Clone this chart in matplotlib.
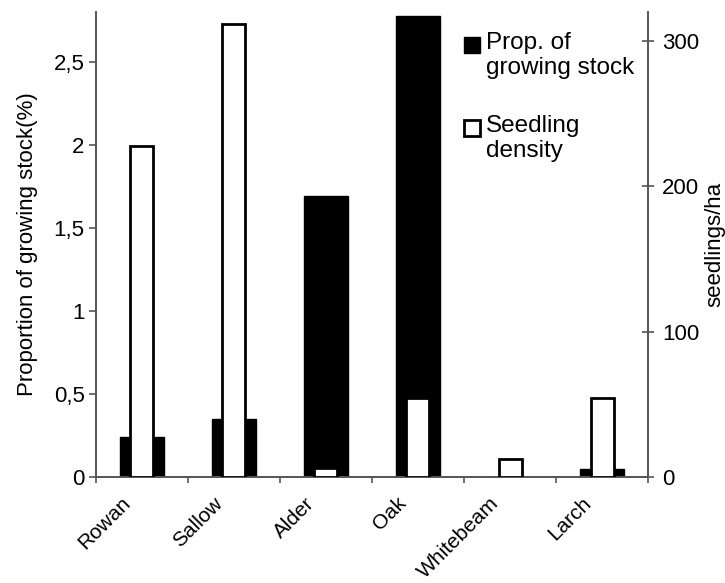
import matplotlib.pyplot as plt
import numpy as np
from matplotlib.patches import Rectangle
from matplotlib.transforms import ScaledTranslation

plt.rcParams['font.family'] = ['Liberation Sans', 'DejaVu Sans']

species = ['Rowan', 'Sallow', 'Alder', 'Oak', 'Whitebeam', 'Larch']
prop_stock = [0.24, 0.35, 1.69, 2.78, 0.0, 0.05]      # %
seedling_density = [228, 312, 6, 54, 12, 54]         # seedlings/ha
legend_labels = ['Prop. of\ngrowing stock', 'Seedling\ndensity']

fs = 16
W, H = 725, 583

fig = plt.figure(figsize=(W / 100, H / 100), dpi=100)
ax = fig.add_axes([0.132, 0.182, 0.762, 0.797])
ax2 = ax.twinx()

x = np.arange(len(species))
ax.bar(x, prop_stock, width=0.48, color='black', edgecolor='black', zorder=2)
ax2.bar(x, seedling_density, width=0.25, color='white', edgecolor='black',
        linewidth=2, zorder=3)

ax.set_xlim(-0.5, len(species) - 0.5)
ax.set_ylim(0, 2.8)
ax2.set_ylim(0, 320)

axis_col = '#555555'
for a in (ax, ax2):
    a.spines['top'].set_visible(False)
    for s in ('left', 'right', 'bottom'):
        a.spines[s].set_color(axis_col)
        a.spines[s].set_linewidth(1.2)

ax.set_yticks([0, 0.5, 1, 1.5, 2, 2.5])
ax.set_yticklabels(['0', '0,5', '1', '1,5', '2', '2,5'], fontsize=fs)
ax.tick_params(axis='y', direction='out', length=5, color=axis_col,
               width=1.2, pad=3)
ax2.set_yticks([0, 100, 200, 300])
ax2.tick_params(axis='y', direction='inout', length=8, color=axis_col,
                width=1.2, labelsize=fs, pad=6)

# ticks at category boundaries, labels at centres
ax.set_xticks(np.arange(-0.5, len(species), 1.0))
ax.set_xticklabels([])
ax.tick_params(axis='x', which='major', direction='out', length=4,
               color=axis_col, width=1.2)
ax.set_xticks(x, minor=True)
ax.set_xticklabels(species, minor=True, rotation=45, ha='right',
                   rotation_mode='anchor', fontsize=15)
ax.tick_params(axis='x', which='minor', length=0, pad=12)
shift = ScaledTranslation(-21 / 100, 0, fig.dpi_scale_trans)
for lbl in ax.get_xticklabels(minor=True):
    lbl.set_transform(lbl.get_transform() + shift)

ax.set_ylabel('Proportion of growing stock(%)', fontsize=fs)
ax.yaxis.set_label_coords(-0.105, 0.5)
ax2.set_ylabel('seedlings/ha', fontsize=fs)
ax2.yaxis.set_label_coords(1.101, 0.5)

# legend: key box aligned with the first line of each label
keys = [dict(facecolor='black', edgecolor='black', linewidth=1),
        dict(facecolor='white', edgecolor='black', linewidth=2)]
key_top = [37, 120]
for lab, kw, top in zip(legend_labels, keys, key_top):
    fig.patches.append(Rectangle((464 / W, 1 - (top + 16) / H), 16 / W, 16 / H,
                                 transform=fig.transFigure, **kw))
    fig.text(486 / W, 1 - (top - 5) / H, lab, fontsize=17.5, va='top',
             ha='left', linespacing=1.2)

fig.savefig('out.png', dpi=100)
